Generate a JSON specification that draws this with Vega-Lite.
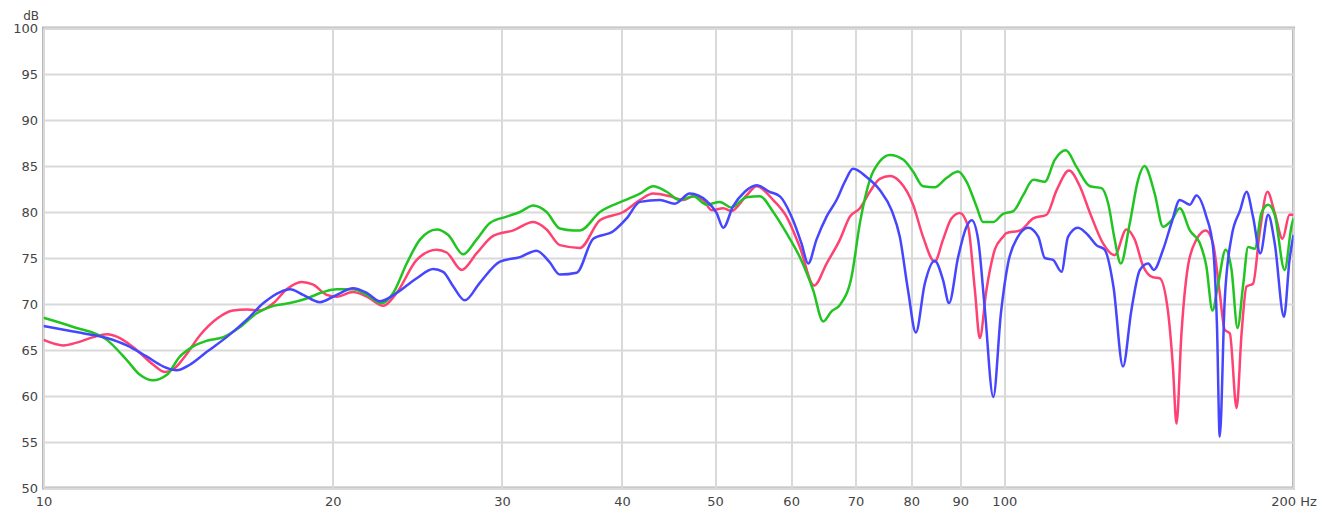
{
  "$schema": "https://vega.github.io/schema/vega-lite/v6.json",
  "width": 1250,
  "height": 460,
  "autosize": {"type": "none"},
  "padding": {"left": 43.5, "top": 28, "right": 39.5, "bottom": 24},
  "background": "white",
  "config": {
    "view": {"stroke": "#b8b8b8", "strokeWidth": 3},
    "axis": {
      "ticks": false,
      "domain": false,
      "gridColor": "#d9d9d9",
      "gridWidth": 2,
      "labelFont": "DejaVu Sans",
      "labelFontSize": 13,
      "labelColor": "#444444",
      "titleFont": "DejaVu Sans",
      "titleColor": "#444444"
    }
  },
  "datasets": {
    "r": [[10,66.1],[10.49,65.5],[10.83,65.8],[11.27,66.4],[11.64,66.7],[12.01,66.3],[12.5,65.0],[13.01,63.4],[13.38,62.6],[13.65,62.9],[14.1,64.6],[14.55,66.6],[15.15,68.4],[15.75,69.3],[16.28,69.4],[16.8,69.3],[17.35,70.1],[17.91,71.6],[18.56,72.4],[19.09,72.1],[19.71,71.0],[20.19,70.8],[21.0,71.3],[21.7,70.8],[22.58,69.8],[23.31,71.2],[24.46,74.8],[25.66,75.9],[26.28,75.6],[27.25,73.7],[28.23,75.5],[29.38,77.4],[30.83,78.0],[32.34,78.9],[33.39,78.1],[34.47,76.4],[36.17,76.1],[37.94,79.1],[40.12,80.0],[41.76,81.3],[43.12,82.0],[44.87,81.7],[46.33,81.3],[47.46,81.7],[48.6,81.3],[49.6,80.2],[51.0,80.4],[52.0,80.1],[53.92,81.8],[55.24,82.8],[57.48,81.3],[59.34,79.5],[61.26,76.2],[63.4,72.0],[65.32,74.4],[67.44,77.0],[69.07,79.5],[70.75,80.4],[72.46,82.2],[74.2,83.6],[76.0,83.9],[77.85,83.3],[80.37,80.8],[82.31,77.3],[84.64,74.6],[86.35,77.0],[88.1,79.3],[89.9,79.9],[91.7,78.4],[93.2,71.5],[94.3,66.3],[95.8,71.5],[97.75,75.9],[99.7,77.3],[100.5,77.7],[103.9,78.0],[107.2,79.3],[110.65,79.7],[113.4,82.4],[116.8,84.5],[119.85,82.8],[122.8,79.9],[126.7,76.6],[130.3,75.3],[134.0,78.1],[136.7,77.0],[139.5,74.1],[142.8,72.9],[145.1,72.8],[148.0,69.3],[149.8,63.2],[151.1,57.0],[152.9,66.8],[155.3,74.1],[158.5,77.0],[162.1,78.0],[164.9,76.6],[167.6,71.2],[169.6,67.2],[171.7,66.8],[174.5,58.7],[176.6,66.8],[178.7,71.9],[181.5,72.2],[184.4,77.7],[187.9,82.2],[191.2,79.9],[194.8,77.1],[198.1,79.7],[200,79.7]],
    "g": [[10,68.5],[10.74,67.5],[11.64,66.1],[12.21,63.9],[12.6,62.3],[13.0,61.7],[13.44,62.3],[13.87,64.3],[14.32,65.4],[14.79,66.0],[15.39,66.4],[16.02,67.5],[16.67,69.0],[17.35,69.8],[18.05,70.1],[18.79,70.6],[19.55,71.3],[20.19,71.6],[21.01,71.6],[21.7,71.0],[22.49,70.1],[23.12,71.2],[23.88,74.4],[24.65,77.0],[25.66,78.1],[26.38,77.5],[27.34,75.4],[28.23,77.0],[29.15,78.8],[30.34,79.5],[31.33,80.0],[32.34,80.7],[33.39,80.0],[34.47,78.2],[35.59,78.0],[36.17,78.0],[37.94,80.0],[40.12,81.2],[41.76,82.0],[43.12,82.8],[44.52,82.2],[45.96,81.3],[47.46,81.7],[49.0,80.8],[50.59,81.1],[52.0,80.5],[53.92,81.6],[55.67,81.7],[57.48,80.0],[59.34,77.7],[61.26,75.1],[63.25,71.5],[64.79,68.1],[66.1,69.2],[67.44,69.9],[69.36,73.0],[70.75,78.8],[72.46,83.5],[74.2,85.5],[76.0,86.2],[78.47,85.7],[80.37,84.4],[82.31,82.8],[84.64,82.7],[87.06,83.7],[89.53,84.4],[91.35,83.3],[93.57,80.6],[95.06,78.9],[97.35,78.9],[99.7,79.8],[102.2,80.1],[104.6,81.8],[107.2,83.5],[110.2,83.3],[112.9,85.7],[115.9,86.7],[118.9,84.9],[122.8,82.8],[126.25,82.6],[128.3,80.9],[130.3,77.0],[132.2,74.4],[135.1,78.8],[137.8,83.5],[139.9,85.0],[143.4,82.0],[146.3,78.4],[149.3,79.1],[152.3,80.4],[156.0,78.0],[159.8,76.6],[162.3,74.1],[164.7,69.3],[166.9,72.1],[170.0,75.9],[172.4,73.7],[174.9,67.4],[177.2,71.9],[179.4,76.2],[182.3,76.0],[185.2,79.9],[188.2,80.8],[191.2,79.7],[195.8,73.7],[199,78.4],[200,79.3]],
    "b": [[10,67.6],[10.74,67.0],[11.64,66.3],[12.21,65.5],[12.8,64.3],[13.33,63.2],[13.76,62.8],[14.2,63.4],[14.79,64.8],[15.51,66.4],[16.28,68.3],[16.94,70.1],[17.63,71.3],[18.05,71.6],[18.63,71.0],[19.39,70.2],[20.19,71.0],[21.0,71.7],[21.7,71.2],[22.4,70.3],[23.31,71.2],[24.46,72.8],[25.45,73.8],[26.06,73.5],[26.7,71.9],[27.45,70.4],[28.45,72.3],[29.86,74.6],[31.33,75.1],[32.6,75.8],[33.6,74.6],[34.47,73.2],[35.89,73.4],[37.34,77.1],[39.17,77.9],[40.45,79.3],[41.76,81.1],[43.81,81.3],[45.4,80.9],[47.07,82.0],[48.99,81.2],[50.18,79.9],[51.0,78.3],[52.2,80.6],[53.7,82.2],[55.24,82.9],[56.98,82.2],[58.4,81.7],[60.28,79.1],[61.5,76.6],[62.5,74.4],[63.76,77.0],[65.32,79.5],[66.9,81.3],[68.25,83.3],[69.6,84.7],[71.9,83.8],[74.2,82.4],[76.33,80.2],[77.85,77.3],[79.4,71.5],[80.9,66.9],[82.65,72.2],[84.64,74.7],[86.35,72.6],[87.6,70.1],[89.53,75.1],[91.35,78.4],[92.5,79.1],[93.93,77.0],[95.4,69.7],[97.4,59.9],[99.2,69.0],[100.9,74.4],[103.3,77.3],[105.9,78.3],[108.5,77.3],[110.2,75.0],[112.4,74.8],[114.7,73.5],[116.5,77.3],[119.3,78.3],[122.2,77.5],[124.7,76.4],[127.2,75.9],[129.9,71.9],[132.9,63.2],[135.6,69.3],[138.4,73.7],[141.2,74.4],[143.1,73.7],[146.3,75.9],[149.3,78.8],[152.3,81.3],[156.0,80.8],[158.5,81.8],[162.3,79.5],[164.9,76.2],[166.5,67.5],[167.6,55.6],[169.6,70.4],[172.4,77.3],[176.0,80.2],[178.7,82.2],[181.5,79.5],[184.7,75.5],[188.2,79.7],[191.2,76.6],[195.5,68.6],[198.1,74.8],[200,77.5]]
  },
  "layer": [
    {
      "data": {"name": "r"},
      "transform": [{"calculate": "datum[0]", "as": "f"}, {"calculate": "datum[1]", "as": "d"}],
      "mark": {"type": "line", "interpolate": "monotone", "strokeWidth": 2.5, "color": "#ff4272", "clip": true},
      "encoding": {
        "x": {"field": "f", "type": "quantitative", "scale": {"type": "log", "domain": [10, 200], "nice": false},
          "axis": {"values": [10, 20, 30, 40, 50, 60, 70, 80, 90, 100, 200], "format": "d", "labelExpr": "datum.value == 200 ? '200 Hz' : datum.label", "title": null, "labelPadding": 7, "labelFlush": false}},
        "y": {"field": "d", "type": "quantitative", "scale": {"domain": [50, 100], "nice": false, "zero": false},
          "axis": {"values": [50, 55, 60, 65, 70, 75, 80, 85, 90, 95, 100], "title": "dB", "titleAngle": 0, "titleAlign": "right", "titleBaseline": "alphabetic", "titleX": -5, "titleY": -9, "titleFontSize": 12, "titleFontWeight": "normal", "labelPadding": 6}}
      }
    },
    {
      "data": {"name": "g"},
      "transform": [{"calculate": "datum[0]", "as": "f"}, {"calculate": "datum[1]", "as": "d"}],
      "mark": {"type": "line", "interpolate": "monotone", "strokeWidth": 2.5, "color": "#22c422", "clip": true},
      "encoding": {
        "x": {"field": "f", "type": "quantitative"},
        "y": {"field": "d", "type": "quantitative"}
      }
    },
    {
      "data": {"name": "b"},
      "transform": [{"calculate": "datum[0]", "as": "f"}, {"calculate": "datum[1]", "as": "d"}],
      "mark": {"type": "line", "interpolate": "monotone", "strokeWidth": 2.5, "color": "#4646ff", "clip": true},
      "encoding": {
        "x": {"field": "f", "type": "quantitative"},
        "y": {"field": "d", "type": "quantitative"}
      }
    }
  ]
}
